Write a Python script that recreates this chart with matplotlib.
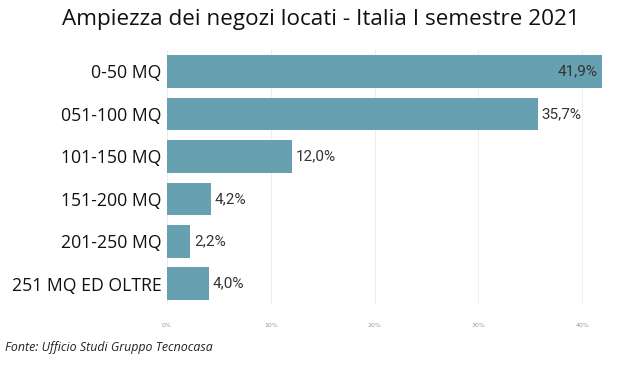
import matplotlib
matplotlib.use("Agg")
import matplotlib.pyplot as plt

categories = ["0-50 MQ", "051-100 MQ", "101-150 MQ", "151-200 MQ", "201-250 MQ", "251 MQ ED OLTRE"]
values = [41.9, 35.7, 12.0, 4.2, 2.2, 4.0]
value_labels = ["41,9%", "35,7%", "12,0%", "4,2%", "2,2%", "4,0%"]
xticks = [0, 10, 20, 30, 40]
xtick_labels = ["0%", "10%", "20%", "30%", "40%"]

fig = plt.figure(figsize=(6.42, 3.66), dpi=100)
ax = fig.add_axes([167/642, 1-305/366, (602-167)/642, (305-50.25)/366])

y = list(range(len(categories)))
ax.barh(y, values, height=0.77, color="#66A0B1", zorder=2)
ax.set_ylim(len(categories)-0.5, -0.5)
ax.set_xlim(0, 41.9)
ax.set_yticks(y)
ax.set_yticklabels(categories, fontsize=12.7, color="#111111", family="Open Sans")
ax.set_xticks(xticks)
ax.set_xticklabels(xtick_labels, fontsize=4.5, color="#999999")
ax.tick_params(axis="y", length=0, pad=4)
ax.tick_params(axis="x", length=0, pad=13)
for s in ax.spines.values():
    s.set_visible(False)
ax.grid(axis="x", color="#EEEEEE", linewidth=0.8, zorder=0)
ax.set_axisbelow(True)

for i, (v, lab) in enumerate(zip(values, value_labels)):
    if v > 40:
        ax.text(v - 0.4, i, lab, ha="right", va="center", fontsize=11, color="#333333", family="Roboto")
    else:
        ax.text(v + 0.4, i, lab, ha="left", va="center", fontsize=11, color="#333333", family="Roboto")

fig.text(0.5, 1-20/366, "Ampiezza dei negozi locati - Italia I semestre 2021", ha="center", va="center",
         fontsize=16.2, color="#111111", family="Open Sans")
fig.text(5/642, 1-347/366, "Fonte: Ufficio Studi Gruppo Tecnocasa", ha="left", va="center",
         fontsize=8.9, style="italic", color="#222222", family="Open Sans")

fig.savefig("out.png", dpi=100)
